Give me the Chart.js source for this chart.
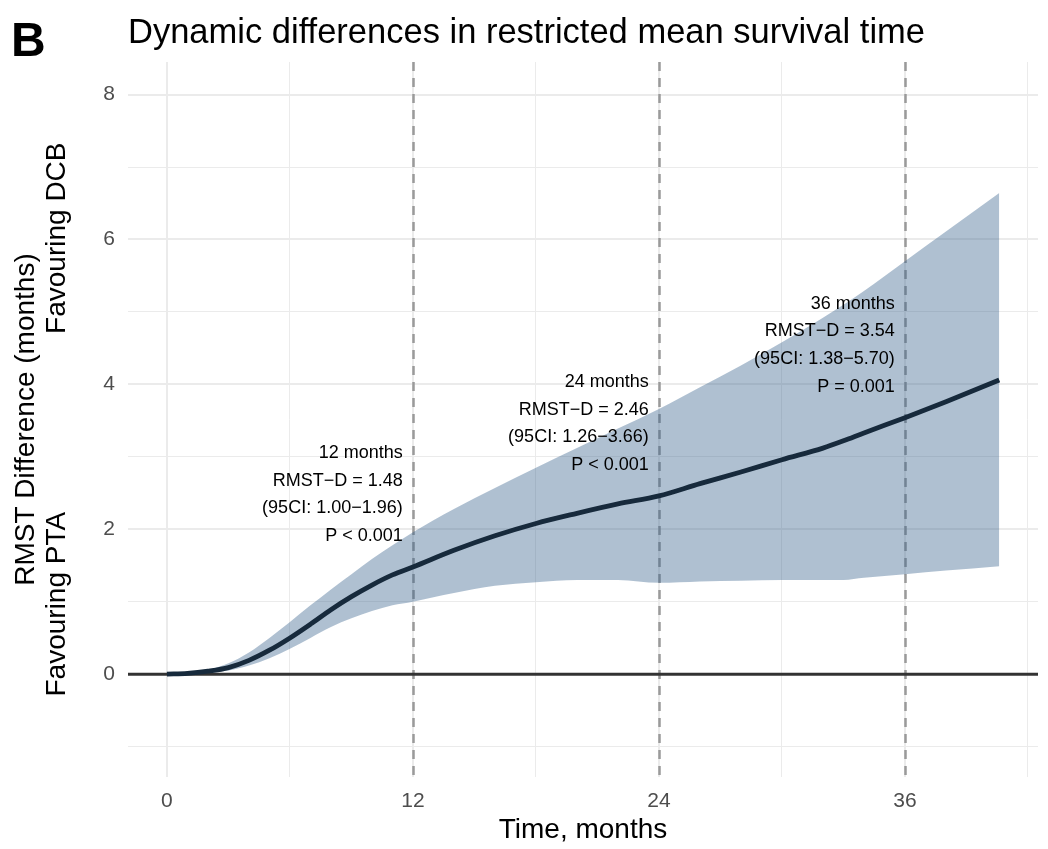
<!DOCTYPE html>
<html><head><meta charset="utf-8">
<script src="https://cdn.jsdelivr.net/npm/chart.js@4.4.1/dist/chart.umd.min.js"></script>
<style>html,body{margin:0;padding:0;background:#fff;} canvas{display:block;}</style>
</head><body>
<canvas id="c" width="1048" height="849"></canvas>
<script>
// ---- data ----
const months   = [0, 1, 2, 3, 4, 5, 6, 7, 8, 9, 10, 11, 12, 14, 16, 18, 20, 22, 24, 26, 28, 30, 32, 33, 34, 36, 38, 40.6];
const rmstDiff = [0, 0.01, 0.04, 0.09, 0.19, 0.33, 0.50, 0.69, 0.89, 1.07, 1.23, 1.37, 1.48, 1.71, 1.91, 2.08, 2.22, 2.35, 2.46, 2.63, 2.79, 2.96, 3.12, 3.22, 3.33, 3.54, 3.76, 4.06];
const ciUpper  = [0, 0.01, 0.06, 0.15, 0.30, 0.50, 0.72, 0.95, 1.17, 1.38, 1.59, 1.78, 1.96, 2.28, 2.57, 2.85, 3.12, 3.39, 3.66, 3.96, 4.26, 4.58, 4.92, 5.10, 5.29, 5.70, 6.11, 6.64];
const ciLower  = [0, 0.00, 0.02, 0.05, 0.12, 0.22, 0.35, 0.50, 0.65, 0.77, 0.87, 0.95, 1.00, 1.12, 1.22, 1.27, 1.30, 1.30, 1.26, 1.28, 1.29, 1.30, 1.30, 1.30, 1.33, 1.38, 1.43, 1.49];

const xTicks      = [0, 6, 12, 18, 24, 30, 36, 42];
const xTickLabels = ['0', '', '12', '', '24', '', '36', ''];
const yTicks      = [-1, 0, 1, 2, 3, 4, 5, 6, 7, 8];
const yTickLabels = ['', '0', '', '2', '', '4', '', '6', '', '8'];

const landmarkMonths = [12, 24, 36];
const landmarkRmst   = [1.48, 2.46, 3.54];
const landmarkLo     = [1.00, 1.26, 1.38];
const landmarkHi     = [1.96, 3.66, 5.70];
const landmarkP      = ['P < 0.001', 'P < 0.001', 'P = 0.001'];

const titleText = 'Dynamic differences in restricted mean survival time';
const panelTag  = 'B';
const xTitle    = 'Time, months';
const yTitle1   = 'RMST Difference (months)';
const yTitleLow = 'Favouring PTA';
const yTitleHigh= 'Favouring DCB';

const FONT = '"Liberation Sans", Arial, sans-serif';
const pts = arr => months.map((m, i) => ({x: m, y: arr[i]}));

const deco = {
  id: 'deco',
  beforeDatasetsDraw(chart) {
    const {ctx, chartArea: a, scales: {x, y}} = chart;
    ctx.save();
    ctx.strokeStyle = '#9a9a9a'; ctx.lineWidth = 2.5; ctx.setLineDash([9, 7]);
    landmarkMonths.forEach(m => {
      const px = Math.round(x.getPixelForValue(m)) + 0.5;
      ctx.beginPath(); ctx.moveTo(px, a.top); ctx.lineTo(px, a.bottom); ctx.stroke();
    });
    ctx.setLineDash([]);
    ctx.strokeStyle = '#333333'; ctx.lineWidth = 3;
    const y0 = y.getPixelForValue(0);
    ctx.beginPath(); ctx.moveTo(a.left, y0); ctx.lineTo(a.right, y0); ctx.stroke();
    ctx.restore();
  },
  afterDatasetsDraw(chart) {
    const {ctx, scales: {x, y}} = chart;
    ctx.save();
    ctx.font = '18px ' + FONT; ctx.fillStyle = '#000';
    ctx.textAlign = 'right'; ctx.textBaseline = 'middle';
    const lh = 27.7;
    landmarkMonths.forEach((m, i) => {
      const lines = [
        m + ' months',
        'RMST\u2212D = ' + landmarkRmst[i].toFixed(2),
        '(95CI: ' + landmarkLo[i].toFixed(2) + '\u2212' + landmarkHi[i].toFixed(2) + ')',
        landmarkP[i]
      ];
      const px = x.getPixelForValue(m - 0.5);
      const cy = y.getPixelForValue(landmarkRmst[i] + 1);
      lines.forEach((t, k) => ctx.fillText(t, px, cy + (k - 1.5) * lh));
    });
    ctx.restore();
  },
  afterDraw(chart) {
    const {ctx, chartArea: a} = chart;
    ctx.save();
    ctx.fillStyle = '#000';
    ctx.textBaseline = 'alphabetic'; ctx.textAlign = 'left';
    ctx.font = 'bold 48px ' + FONT;
    ctx.fillText(panelTag, 11, 56);
    ctx.font = '34.5px ' + FONT;
    ctx.fillText(titleText, a.left, 43);
    // x title
    ctx.font = '28px ' + FONT; ctx.textAlign = 'center'; ctx.textBaseline = 'middle';
    ctx.fillText(xTitle, (a.left + a.right) / 2, 830);
    // y title
    const cy = (a.top + a.bottom) / 2;
    ctx.save(); ctx.translate(26, cy); ctx.rotate(-Math.PI / 2);
    ctx.fillText(yTitle1, 0, 0); ctx.restore();
    ctx.save(); ctx.translate(57, cy); ctx.rotate(-Math.PI / 2);
    ctx.textAlign = 'left'; ctx.fillText(yTitleLow, -277, 0);
    ctx.textAlign = 'right'; ctx.fillText(yTitleHigh, 277, 0);
    ctx.restore();
    ctx.restore();
  }
};

new Chart(document.getElementById('c'), {
  type: 'line',
  data: {
    datasets: [
      {data: pts(ciUpper), borderWidth: 0, pointRadius: 0, fill: '+1',
       backgroundColor: 'rgba(55,97,140,0.4)', cubicInterpolationMode: 'monotone', order: 3},
      {data: pts(ciLower), borderWidth: 0, pointRadius: 0, fill: false,
       backgroundColor: 'rgba(0,0,0,0)', cubicInterpolationMode: 'monotone', order: 2},
      {data: pts(rmstDiff), borderColor: '#172a3c', borderWidth: 4.8, pointRadius: 0, fill: false,
       cubicInterpolationMode: 'monotone', borderCapStyle: 'butt', order: 1}
    ]
  },
  options: {
    responsive: false, animation: false, devicePixelRatio: 1,
    layout: {padding: {left: 0, right: 10, top: 62, bottom: 0}},
    plugins: {legend: {display: false}, tooltip: {enabled: false}, title: {display: false}},
    scales: {
      x: {
        type: 'linear', min: -1.90, max: 42.49,
        afterBuildTicks: s => { s.ticks = xTicks.map(v => ({value: v})); },
        afterFit: s => { s.height = 72; },
        ticks: {autoSkip: false, maxRotation: 0, padding: 12, color: '#4d4d4d',
                font: {family: FONT, size: 21}, callback: (v, i) => xTickLabels[i]},
        grid: {color: '#ebebeb', drawTicks: false,
               lineWidth: c => (c.tick && c.tick.value % 12 === 0) ? 2 : 1},
        border: {display: false}
      },
      y: {
        type: 'linear', min: -1.42, max: 8.45,
        afterBuildTicks: s => { s.ticks = yTicks.map(v => ({value: v})); },
        afterFit: s => { s.width = 128; },
        ticks: {autoSkip: false, padding: 13, color: '#4d4d4d',
                font: {family: FONT, size: 21}, callback: (v, i) => yTickLabels[i]},
        grid: {color: '#ebebeb', drawTicks: false,
               lineWidth: c => (c.tick && c.tick.value % 2 === 0) ? 2 : 1},
        border: {display: false}
      }
    }
  },
  plugins: [deco]
});
</script>
</body></html>
